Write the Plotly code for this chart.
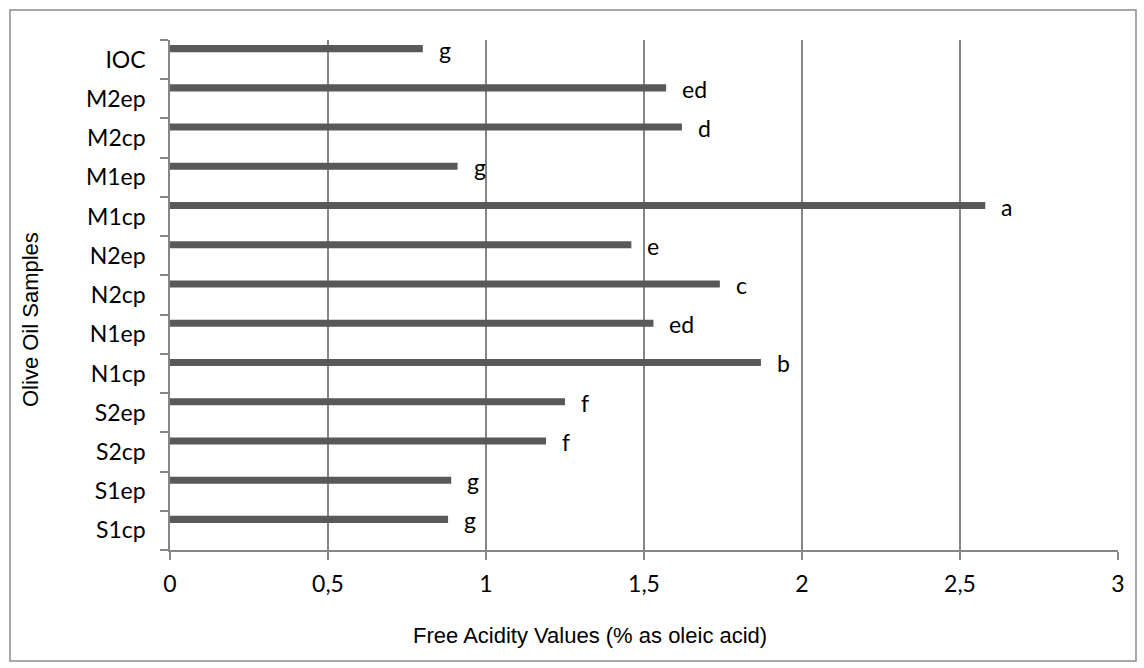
import plotly.graph_objects as go

categories = ["S1cp", "S1ep", "S2cp", "S2ep", "N1cp", "N1ep", "N2cp", "N2ep",
              "M1cp", "M1ep", "M2cp", "M2ep", "IOC"]
values = [0.88, 0.89, 1.19, 1.25, 1.87, 1.53, 1.74, 1.46, 2.58, 0.91, 1.62, 1.57, 0.80]
letters = ["g", "g", "f", "f", "b", "ed", "c", "e", "a", "g", "d", "ed", "g"]
x_ticks = [0, 0.5, 1, 1.5, 2, 2.5, 3]

W, H = 1144, 668
L, R, T, B = 170, 26, 40, 118
pw, ph = W - L - R, H - T - B

def px2paper_x(px):
    return (px - L) / pw

def px2paper_y(py):
    return (H - B - py) / ph

TICKFONT = dict(family="Lato, Calibri, Carlito, sans-serif", size=23, color="#000000")
TITLEFONT = dict(family="Liberation Sans Narrow, Arial Narrow, Liberation Sans, Arial", size=22, color="#000000")

fig = go.Figure()
fig.add_trace(go.Bar(
    x=values, y=categories, orientation="h",
    marker=dict(color="#595959", line=dict(width=0)),
    width=0.18, offset=0.19,
    showlegend=False, hoverinfo="x+y",
))

annotations = []
for c, v, l in zip(categories, values, letters):
    annotations.append(dict(
        x=v, y=c, xref="x", yref="y", text=l, showarrow=False,
        xanchor="left", yanchor="middle", xshift=14, yshift=10,
        font=TICKFONT,
    ))
annotations.append(dict(
    x=px2paper_x(590), y=px2paper_y(635), xref="paper", yref="paper",
    text="Free Acidity Values (% as oleic acid)", showarrow=False,
    xanchor="center", yanchor="middle", font=TITLEFONT,
))
annotations.append(dict(
    x=px2paper_x(30), y=px2paper_y(320), xref="paper", yref="paper",
    text="Olive Oil Samples", showarrow=False, textangle=-90,
    xanchor="center", yanchor="middle", font=TITLEFONT,
))

fig.update_layout(
    width=W, height=H,
    margin=dict(l=L, r=R, t=T, b=B, pad=0),
    paper_bgcolor="white", plot_bgcolor="white",
    separators=",.",
    annotations=annotations,
    shapes=[dict(
        type="rect", xref="paper", yref="paper",
        x0=px2paper_x(10), x1=px2paper_x(1136),
        y0=px2paper_y(661), y1=px2paper_y(10),
        line=dict(color="#8c8c8c", width=1.5), fillcolor="rgba(0,0,0,0)", layer="below",
    )],
    xaxis=dict(
        range=[0, 3], tickvals=x_ticks, showgrid=True, gridcolor="#868686", gridwidth=1.5,
        zeroline=False, showline=True, linecolor="#868686", linewidth=1.5,
        ticks="outside", ticklen=8, tickcolor="#868686", tickwidth=1.5,
        tickfont=TICKFONT, ticklabelstandoff=5,
    ),
    yaxis=dict(
        type="category", categoryorder="array", categoryarray=categories,
        range=[-0.5, 12.5], showgrid=False, zeroline=False,
        showline=True, linecolor="#868686", linewidth=1.5,
        ticks="outside", ticklen=8, tickcolor="#868686", tickwidth=1.5,
        tickson="boundaries", tickfont=TICKFONT, ticklabelstandoff=18,
    ),
)

fig.write_html("out.html", config={"displayModeBar": False},
               post_script="document.body.style.margin='0px';")
